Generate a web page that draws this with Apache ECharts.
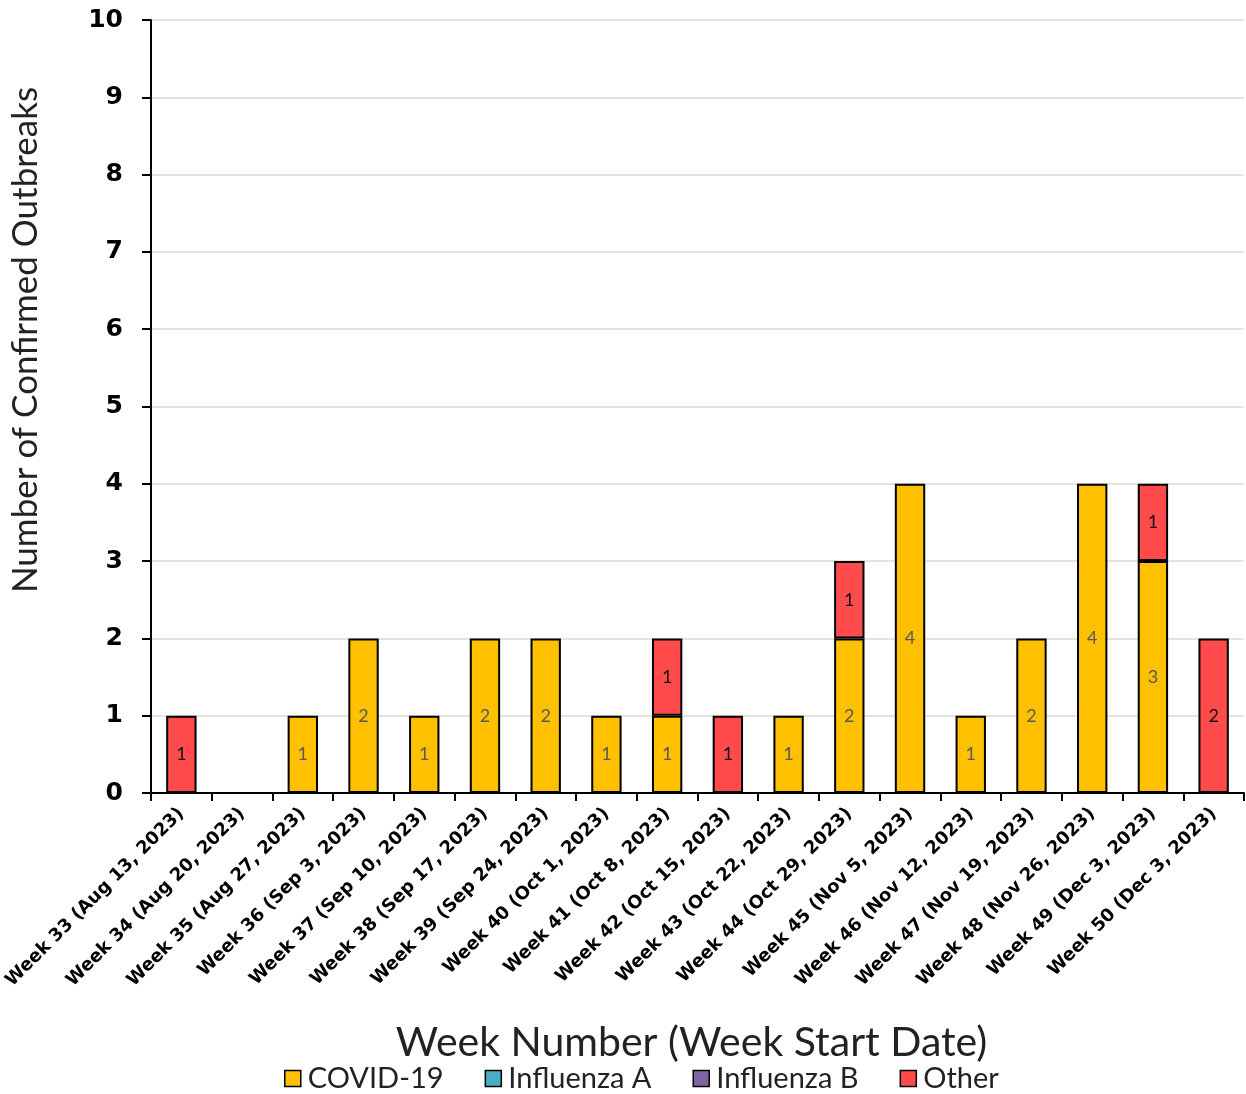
<!DOCTYPE html>
<html>
<head>
<meta charset="utf-8">
<script src="https://cdn.jsdelivr.net/npm/echarts@6/dist/echarts.min.js"></script>
<style>
html,body{margin:0;padding:0;background:#fff;}
#chart{width:1246px;height:1094px;}
</style>
</head>
<body>
<div id="chart"></div>
<script>
const categories = [
  "Week 33 (Aug 13, 2023)","Week 34 (Aug 20, 2023)","Week 35 (Aug 27, 2023)","Week 36 (Sep 3, 2023)",
  "Week 37 (Sep 10, 2023)","Week 38 (Sep 17, 2023)","Week 39 (Sep 24, 2023)","Week 40 (Oct 1, 2023)",
  "Week 41 (Oct 8, 2023)","Week 42 (Oct 15, 2023)","Week 43 (Oct 22, 2023)","Week 44 (Oct 29, 2023)",
  "Week 45 (Nov 5, 2023)","Week 46 (Nov 12, 2023)","Week 47 (Nov 19, 2023)","Week 48 (Nov 26, 2023)",
  "Week 49 (Dec 3, 2023)","Week 50 (Dec 3, 2023)"
];
const covid19    = [0,0,1,2,1,2,2,1,1,0,1,2,4,1,2,4,3,0];
const influenzaA = [0,0,0,0,0,0,0,0,0,0,0,0,0,0,0,0,0,0];
const influenzaB = [0,0,0,0,0,0,0,0,0,0,0,0,0,0,0,0,0,0];
const other      = [1,0,0,0,0,0,0,0,1,1,0,1,0,0,0,0,1,2];
const yTicks = [0,1,2,3,4,5,6,7,8,9,10];

const FONT = "'DejaVu Sans', sans-serif";
const LFONT = "'Lato', 'Noto Sans', sans-serif";

function mk(name, data, color, labelColor) {
  return {
    name: name, type: 'bar', stack: 'total',
    data: data.map(v => (v === 0 ? '-' : v)),
    barWidth: '50%',
    itemStyle: { color: color, borderColor: '#000', borderWidth: 2 },
    label: {
      show: true, position: 'inside', color: labelColor, fontSize: 18, fontFamily: LFONT,
      formatter: p => (p.value ? String(p.value) : '')
    }
  };
}

const chart = echarts.init(document.getElementById('chart'));
chart.setOption({
  animation: false,
  backgroundColor: '#fff',
  grid: { left: 151, right: 2, top: 20, bottom: 301, containLabel: false },
  legend: {
    top: 1059, left: 279, itemWidth: 16, itemHeight: 16, itemGap: 41,
    icon: 'rect',
    textStyle: { fontSize: 29, fontFamily: LFONT, color: '#222', padding: [0, 0, 0, 2] },
    data: ['COVID-19','Influenza A','Influenza B','Other'],
    itemStyle: { borderColor: '#000', borderWidth: 1.5 }
  },
  xAxis: {
    type: 'category', data: categories,
    axisLine: { lineStyle: { color: '#000', width: 2 } },
    axisTick: { show: true, interval: 0, length: 8, lineStyle: { color: '#000', width: 2 } },
    axisLabel: { interval: 0, rotate: 45, fontSize: 18, fontWeight: 'bold', color: '#000', fontFamily: FONT, margin: 18 },
    name: 'Week Number (Week Start Date)', nameLocation: 'middle', nameGap: 229,
    nameTextStyle: { fontSize: 41, fontFamily: LFONT, color: '#222', padding: [0, 12, 0, 0] }
  },
  yAxis: {
    type: 'value', min: 0, max: 10, interval: 1,
    axisLine: { show: true, lineStyle: { color: '#000', width: 2 } },
    axisTick: { show: true, length: 9, lineStyle: { color: '#000', width: 2 } },
    axisLabel: { fontSize: 25, fontWeight: 'bold', color: '#000', fontFamily: FONT, margin: 28,
      formatter: v => (yTicks.indexOf(v) >= 0 ? String(v) : '') },
    splitLine: { show: true, lineStyle: { color: '#e4e4dc', width: 2 } }
  },
  graphic: [{
    type: 'text', x: 26, y: 340, rotation: Math.PI / 2,
    style: { text: 'Number of Confirmed Outbreaks', fontSize: 35, fontFamily: LFONT, fill: '#222',
      textAlign: 'center', textVerticalAlign: 'middle' }
  }],
  series: [
    mk('COVID-19', covid19, '#FFC000', '#595959'),
    mk('Influenza A', influenzaA, '#4BACC6', '#000'),
    mk('Influenza B', influenzaB, '#8064A2', '#000'),
    mk('Other', other, '#FF4B4B', '#111')
  ]
});
</script>
</body>
</html>
